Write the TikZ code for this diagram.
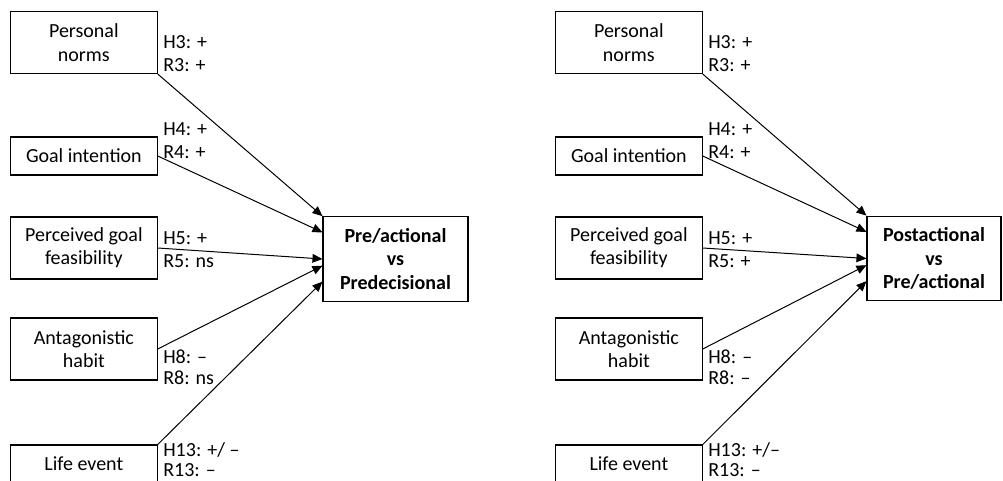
\documentclass[tikz,border=0pt]{standalone}
\usepackage{fontspec}
\setmainfont{Carlito}
\usetikzlibrary{positioning,arrows.meta}

\tikzset{
  factor/.style={draw, line width=0.8pt, minimum width=110pt, align=center,
    inner sep=2pt, font=\fontsize{15}{17.5}\selectfont},
  twoline/.style={factor, minimum height=46.5pt},
  oneline/.style={factor, minimum height=28.5pt},
  outcome/.style={draw, line width=0.8pt, align=center, minimum height=63.5pt,
    inner sep=2pt, font=\fontsize{15}{17.5}\selectfont\bfseries},
  hyp/.style={anchor=north west, inner sep=0pt, align=left,
    font=\fontsize{15}{17.5}\selectfont},
  tight/.style={font=\fontsize{15}{15.5}\selectfont},
  path/.style={-{Triangle[length=7.5pt,width=6.5pt]}, line width=0.75pt}
}

\begin{document}
\begin{tikzpicture}[x=0.75pt,y=-0.75pt]
    \useasboundingbox (0,0) rectangle (1003,481);

    % left panel
    \node[twoline,anchor=west] (pnL)  at (10,42.5) {Personal\\norms};
    \node[oneline,anchor=west] (giL)  at (10,156)  {Goal intention};
    \node[twoline,anchor=west] (pgfL) at (10,248)  {Perceived goal\\feasibility};
    \node[twoline,anchor=west] (ahL)  at (10,349)  {Antagonistic\\habit};
    \node[oneline,anchor=west] (leL)  at (10,464)  {Life event};
    \node[outcome,minimum width=108.75pt] (tgtL) at (395.5,259) {Pre/actional\\vs\\Predecisional};

    \node[hyp] (h3L)  at (163,35)  {H3: +\\R3: +};
    \node[hyp] (h4L)  at (163,122) {H4: +\\R4: +};
    \node[hyp] (h5L)  at (163,231) {H5: +\\R5: ns};
    \node[hyp,tight] (h8L)  at (163,350) {H8: --\\R8: ns};
    \node[hyp,tight] (h13L) at (163,442) {H13: +/ --\\R13: --};

    \draw[path] (pnL.south east)  -- (tgtL.north west);
    \draw[path] (giL.east)        -- ([yshift=20pt]tgtL.west);
    \draw[path] (pgfL.east)       -- (tgtL.west);
    \draw[path] (ahL.east)        -- ([yshift=-5pt]tgtL.west);
    \draw[path] (leL.north east)  -- ([yshift=-17pt]tgtL.west);

    % right panel
    \node[twoline,anchor=west] (pnR)  at (555,42.5) {Personal\\norms};
    \node[oneline,anchor=west] (giR)  at (555,156)  {Goal intention};
    \node[twoline,anchor=west] (pgfR) at (555,248)  {Perceived goal\\feasibility};
    \node[twoline,anchor=west] (ahR)  at (555,349)  {Antagonistic\\habit};
    \node[oneline,anchor=west] (leR)  at (555,464)  {Life event};
    \node[outcome,minimum width=100.5pt] (tgtR) at (934,258.5) {Postactional\\vs\\Pre/actional};

    \node[hyp] (h3R)  at (708,35)  {H3: +\\R3: +};
    \node[hyp] (h4R)  at (708,122) {H4: +\\R4: +};
    \node[hyp] (h5R)  at (708,231) {H5: +\\R5: +};
    \node[hyp,tight] (h8R)  at (708,350) {H8: --\\R8: --};
    \node[hyp,tight] (h13R) at (708,442) {H13: +/--\\R13: --};

    \draw[path] (pnR.south east)  -- (tgtR.north west);
    \draw[path] (giR.east)        -- ([yshift=20pt]tgtR.west);
    \draw[path] (pgfR.east)       -- (tgtR.west);
    \draw[path] (ahR.east)        -- ([yshift=-5pt]tgtR.west);
    \draw[path] (leR.north east)  -- ([yshift=-17pt]tgtR.west);
\end{tikzpicture}
\end{document}
